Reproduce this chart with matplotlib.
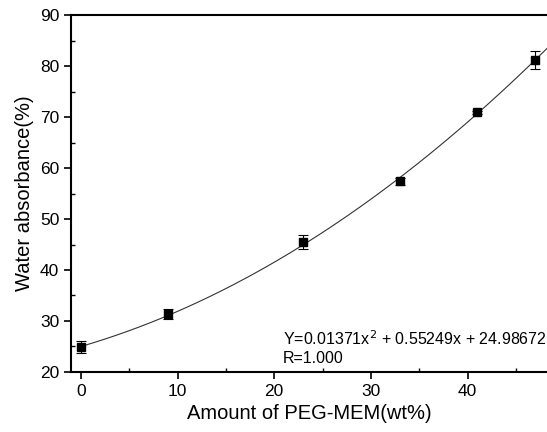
import matplotlib
matplotlib.use("Agg")
import matplotlib.pyplot as plt
import numpy as np
from matplotlib.ticker import MultipleLocator

plt.rcParams["font.family"] = ["Liberation Sans", "DejaVu Sans"]

peg_wt = [0, 9, 23, 33, 41, 47]
water_abs = [24.9, 31.3, 45.5, 57.4, 70.9, 81.2]
err = [1.2, 1.0, 1.4, 0.7, 0.2, 1.8]
fit_coef = [0.01371, 0.55249, 24.98672]

fig = plt.figure(figsize=(5.47, 4.32), dpi=100)
ax = fig.add_axes([0.130, 0.139, 0.870, 0.826])

xs = np.linspace(0, 48.5, 200)
ax.plot(xs, np.polyval(fit_coef, xs), color="#333333", lw=0.8)
ax.errorbar(peg_wt, water_abs, yerr=err, fmt="s", color="black", ms=5.5,
            ecolor="black", elinewidth=0.8, capsize=3.5, capthick=0.8)

ax.set_xlim(-1, 48.2)
ax.set_ylim(20, 90)
ax.xaxis.set_major_locator(MultipleLocator(10))
ax.xaxis.set_minor_locator(MultipleLocator(5))
ax.yaxis.set_major_locator(MultipleLocator(10))
ax.yaxis.set_minor_locator(MultipleLocator(5))
ax.tick_params(which="major", direction="out", length=5, width=1.2, labelsize=12.5)
ax.tick_params(which="minor", direction="in", length=3, width=1)
ax.spines["right"].set_visible(False)
for s in ["left", "bottom", "top"]:
    ax.spines[s].set_linewidth(1.5)

ax.set_xlabel("Amount of PEG-MEM(wt%)", fontsize=14.5)
ax.set_ylabel("Water absorbance(%)", fontsize=14.5)

ax.text(20.9, 26.5, "Y=0.01371x$^2$ + 0.55249x + 24.98672", fontsize=11.5, va="center")
ax.text(20.9, 22.7, "R=1.000", fontsize=11.5, va="center")

fig.savefig("out.png", dpi=100)
